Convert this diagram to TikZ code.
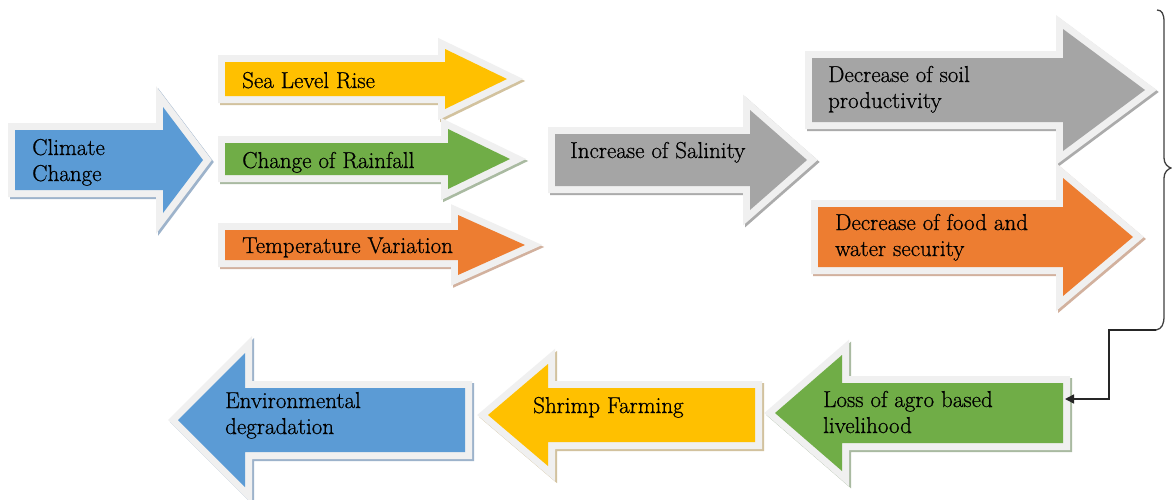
\documentclass[tikz,border=0pt]{standalone}
\usepackage{fontspec}
\newfontfamily\lmheavy{Latin Modern Roman}[RawFeature={embolden=0.7}]
\usetikzlibrary{arrows.meta}
\definecolor{cblue}{HTML}{5B9BD5}
\definecolor{cyellow}{HTML}{FFC000}
\definecolor{cgreen}{HTML}{70AD47}
\definecolor{corange}{HTML}{ED7D31}
\definecolor{cgray}{HTML}{A5A5A5}
\definecolor{sblue}{HTML}{9DB3CB}
\definecolor{syellow}{HTML}{D2C29E}
\definecolor{sgreen}{HTML}{A9BAA1}
\definecolor{sorange}{HTML}{D2B19E}
\definecolor{sgray}{HTML}{ABABAB}
\definecolor{rim}{HTML}{F0F0F0}
\tikzset{
  rimline/.style={draw=rim, line width=14pt, line join=miter},
  shadeline/.style={line width=14pt, line join=miter},
  lbl/.style={anchor=base west, inner sep=0pt, font=\lmheavy\fontsize{23}{26}\selectfont},
  conn/.style={draw=black!85, line width=1.6pt, -{Triangle[length=9pt,width=9pt]}},
  bracestyle/.style={draw=black!75, line width=1.3pt}
}
% #1 fill, #2 shade, #3 tail x, #4 head base x, #5 tip x, #6 centre y, #7 body half height, #8 head half height
\newcommand\myarrowshape[8]{%
  \draw[shadeline, draw=#2, fill=#2, shift={(2,2)}]
    (#3,{#6-#7}) -- (#4,{#6-#7}) -- (#4,{#6-#8}) -- (#5,#6) -- (#4,{#6+#8}) -- (#4,{#6+#7}) -- (#3,{#6+#7}) -- cycle;
  \draw[rimline]
    (#3,{#6-#7}) -- (#4,{#6-#7}) -- (#4,{#6-#8}) -- (#5,#6) -- (#4,{#6+#8}) -- (#4,{#6+#7}) -- (#3,{#6+#7}) -- cycle;
  \fill[#1]
    (#3,{#6-#7}) -- (#4,{#6-#7}) -- (#4,{#6-#8}) -- (#5,#6) -- (#4,{#6+#8}) -- (#4,{#6+#7}) -- (#3,{#6+#7}) -- cycle;
}
\begin{document}
\begin{tikzpicture}[x=1pt,y=-1pt]
\useasboundingbox[fill=white] (0,0) rectangle (1172,499);

% arrows
\myarrowshape{cblue}{sblue}{15}{163}{203}{160}{30}{53}
\myarrowshape{cyellow}{syellow}{225}{445}{507}{79}{17}{30}
\myarrowshape{cgreen}{sgreen}{225}{448}{510}{159}{16}{30}
\myarrowshape{corange}{sorange}{225}{458}{525}{245}{15}{30}
\myarrowshape{cgray}{sgray}{555}{750}{807}{160}{26}{50}
\myarrowshape{cgray}{sgray}{812}{1063}{1145}{90}{32}{61}
\myarrowshape{corange}{sorange}{818}{1063}{1133}{237}{30}{59}
\myarrowshape{cgreen}{sgreen}{1063}{842}{775}{413}{30}{58}
\myarrowshape{cyellow}{syellow}{755}{548}{488}{415}{27}{51}
\myarrowshape{cblue}{sblue}{465}{245}{178}{420}{32}{67}

% labels
\node[lbl] (cc) at (32,155) {\begin{tabular}[t]{@{}l@{}}Climate\\Change\end{tabular}};
\node[lbl] (slr) at (242,88) {Sea Level Rise};
\node[lbl] (cor) at (242,168) {Change of Rainfall};
\node[lbl] (tv) at (242,253) {Temperature Variation};
\node[lbl] (ios) at (570,158) {Increase of Salinity};
\node[lbl] (dsp) at (828,82) {\begin{tabular}[t]{@{}l@{}}Decrease of soil\\productivity\end{tabular}};
\node[lbl] (dfw) at (835,230) {\begin{tabular}[t]{@{}l@{}}Decrease of food and\\water security\end{tabular}};
\node[lbl] (lab) at (823,407) {\begin{tabular}[t]{@{}l@{}}Loss of agro based\\livelihood\end{tabular}};
\node[lbl] (sf) at (533,413) {Shrimp Farming};
\node[lbl] (ed) at (225,408) {\begin{tabular}[t]{@{}l@{}}Environmental\\degradation\end{tabular}};

% brace
\draw[bracestyle] (1157,10) .. controls (1162,10) and (1164,14) .. (1164,22) -- (1164,158)
  .. controls (1164,164) and (1168,167) .. (1171,168)
  .. controls (1168,169) and (1164,172) .. (1164,178) -- (1164,316)
  .. controls (1164,324) and (1162,329) .. (1156,330);

\coordinate (braceend) at (1156,330);
\coordinate (turn) at (1109,365);
\coordinate (lossin) at (1065,399);
\draw[conn] (braceend) -| (turn) |- (lossin);
\end{tikzpicture}
\end{document}
